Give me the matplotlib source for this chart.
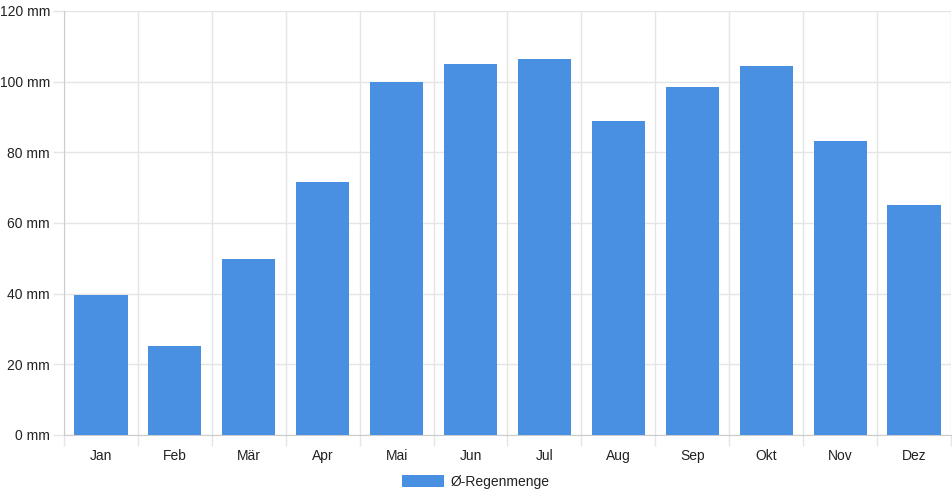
import numpy as np
import matplotlib.pyplot as plt
from matplotlib.patches import Patch

months = ["Jan", "Feb", "Mär", "Apr", "Mai", "Jun", "Jul", "Aug", "Sep", "Okt", "Nov", "Dez"]
rain = [39.7, 25.2, 49.9, 71.5, 99.9, 105.0, 106.4, 88.8, 98.4, 104.4, 83.1, 65.0]
y_ticks = [0, 20, 40, 60, 80, 100, 120]

plt.rcParams['font.family'] = ['Liberation Sans', 'DejaVu Sans']
grid_color = '#e5e5e5'
bar_color = '#4a90e2'

fig = plt.figure(figsize=(9.52, 5.0), dpi=100)
ax = fig.add_axes([64 / 952, 65 / 500, 887 / 952, 424 / 500])

x = np.arange(len(months))
ax.bar(x, rain, width=0.72, color=bar_color, zorder=3)

ax.set_xlim(-0.5, len(months) - 0.5)
ax.set_ylim(0, 120)

ax.set_yticks(y_ticks)
ax.set_yticklabels([f"{v} mm" for v in y_ticks])
ax.set_xticks(x)
ax.set_xticklabels(months)
ax.set_xticks(np.arange(len(months) + 1) - 0.5, minor=True)

ax.tick_params(axis='y', which='major', length=8, width=1, color=grid_color,
               labelsize=10, labelcolor='#222222', pad=2)
ax.tick_params(axis='x', which='major', length=0, labelsize=10,
               labelcolor='#222222', pad=10)
ax.tick_params(axis='x', which='minor', length=8, width=1, color=grid_color)

ax.grid(True, axis='y', which='major', color=grid_color, linewidth=1, zorder=0)
ax.grid(True, axis='x', which='minor', color=grid_color, linewidth=1, zorder=0)

for side in ['top', 'right']:
    ax.spines[side].set_visible(False)
ax.spines['left'].set_color('#cccccc')
ax.spines['bottom'].set_color('#cccccc')

handle = Patch(facecolor=bar_color, edgecolor='none')
fig.legend([handle], ["Ø-Regenmenge"], loc='center', bbox_to_anchor=(476 / 952, 18 / 500),
           frameon=False, fontsize=10, handlelength=3.0, handleheight=1.0,
           handletextpad=0.5, labelcolor='#222222')

fig.savefig('out.png', dpi=100)
